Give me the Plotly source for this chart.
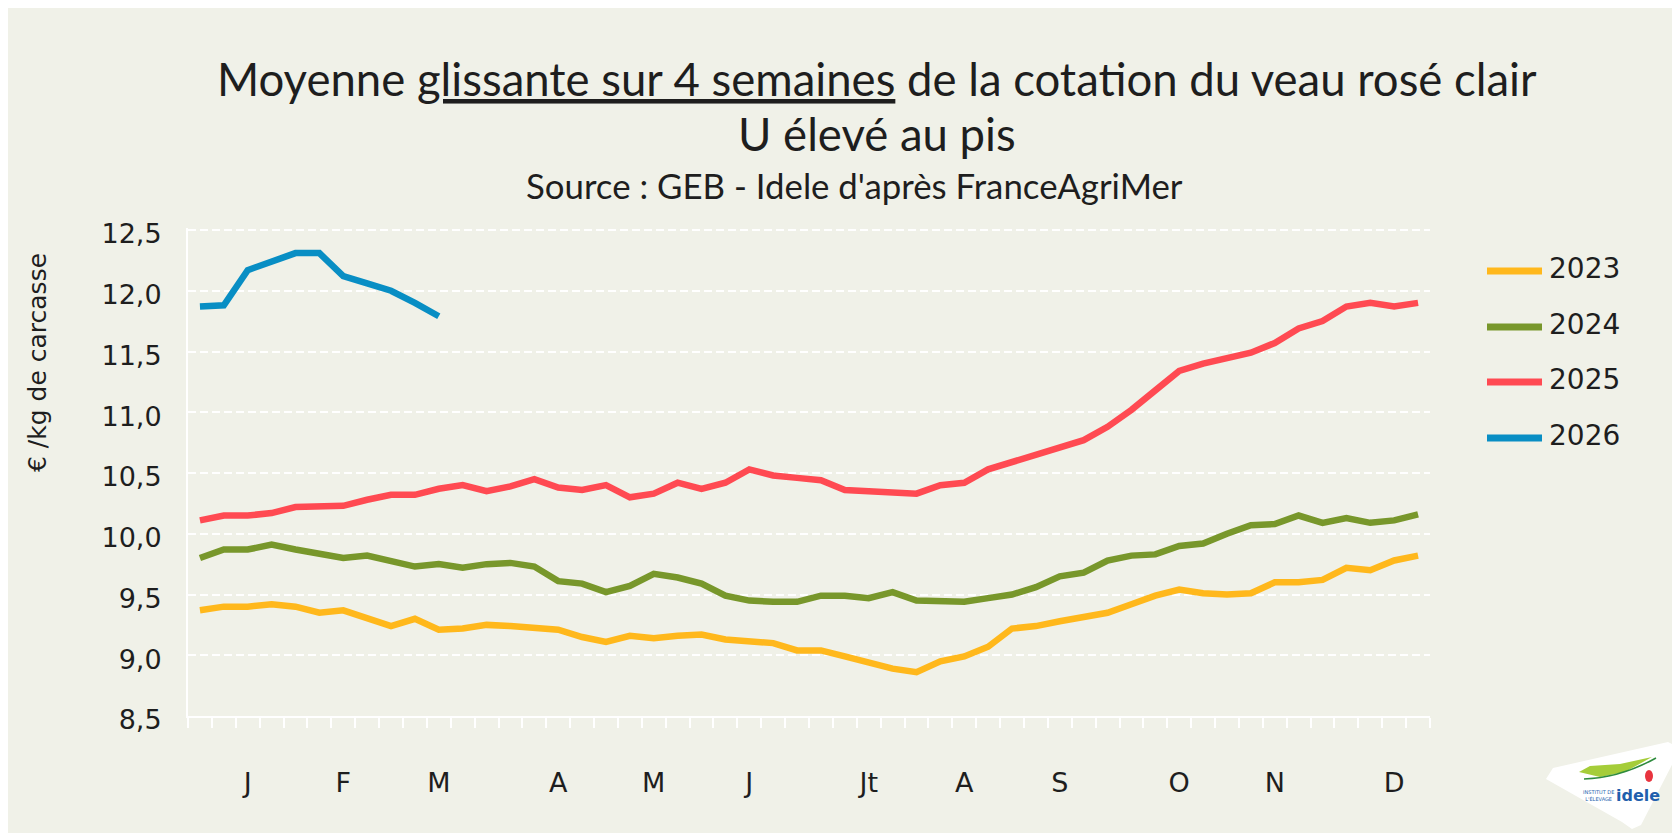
import plotly.graph_objects as go

# ---------------- data ----------------
weeks = list(range(1, 53))

y2023 = [9.37, 9.40, 9.40, 9.42, 9.40, 9.35, 9.37, 9.30, 9.24, 9.30,
         9.21, 9.22, 9.25, 9.24, 9.23, 9.21, 9.15, 9.11, 9.16, 9.14,
         9.16, 9.17, 9.13, 9.11, 9.10, 9.04, 9.04, 8.99, 8.94, 8.89,
         8.86, 8.95, 8.99, 9.07, 9.22, 9.24, 9.28, 9.32, 9.35, 9.42,
         9.49, 9.54, 9.51, 9.50, 9.51, 9.60, 9.60, 9.62, 9.72, 9.70,
         9.78, 9.82]

y2024 = [9.80, 9.87, 9.87, 9.91, 9.87, 9.83, 9.80, 9.82, 9.77, 9.73,
         9.75, 9.72, 9.75, 9.76, 9.73, 9.61, 9.59, 9.52, 9.57, 9.67,
         9.64, 9.59, 9.49, 9.45, 9.44, 9.44, 9.49, 9.49, 9.47, 9.52,
         9.45, 9.45, 9.44, 9.47, 9.50, 9.56, 9.65, 9.68, 9.78, 9.82,
         9.83, 9.90, 9.92, 10.00, 10.07, 10.08, 10.15, 10.09, 10.13, 10.09,
         10.11, 10.16]

y2025 = [10.11, 10.15, 10.15, 10.17, 10.22, 10.23, 10.23, 10.28, 10.32, 10.32,
         10.37, 10.40, 10.35, 10.39, 10.45, 10.38, 10.36, 10.40, 10.30, 10.33,
         10.42, 10.37, 10.42, 10.53, 10.48, 10.46, 10.44, 10.36, 10.35, 10.35,
         10.33, 10.40, 10.42, 10.53, 10.59, 10.66, 10.71, 10.77, 10.88, 11.02,
         11.18, 11.34, 11.40, 11.45, 11.49, 11.57, 11.69, 11.75, 11.87, 11.90,
         11.87, 11.90]

y2026 = [11.87, 11.88, 12.17, 12.24, 12.31, 12.31, 12.12, 12.06, 12.00, 11.90,
         11.79]

series_names = ["2023", "2024", "2025", "2026"]
series_values = [y2023, y2024, y2025, y2026]

month_labels = ["J", "F", "M", "A", "M", "J", "Jt", "A", "S", "O", "N", "D"]
month_weeks = [3, 7, 11, 16, 20, 24, 29, 33, 37, 42, 46, 51]

y_ticks = [8.5, 9.0, 9.5, 10.0, 10.5, 11.0, 11.5, 12.0, 12.5]

title_line1 = ("Moyenne <span style=\"text-decoration:underline;"
               "text-decoration-skip-ink:none\">glissante sur 4 semaines</span>"
               " de la cotation du veau rosé clair")
title_line2 = "U élevé au pis"
title_line3 = "Source : GEB - Idele d'après FranceAgriMer"
y_title = "€ /kg de carcasse"

# ---------------- style ----------------
colors = ["#FFB81C", "#78972B", "#FF4A52", "#088EC4"]
BG = "#F0F1E8"
TXT = "#1E1E1E"
AXFONT = "DejaVu Sans"
TITLEFONT = "Lato"

W, H = 1680, 833
OX, OY = 8, 8                      # page (body) offset of the figure
PX_PER_UNIT = 121.5                # vertical pixels per 1 €/kg
TOP_PAD = 2                        # keep the top gridline off the plot edge
Y_MIN = 8.5
Y_MAX = 12.5 + TOP_PAD / PX_PER_UNIT
# plot area in screen pixels
SX0, SX1, SY0, SY1 = 188, 1430, 230 - TOP_PAD, 716
L = SX0 - OX
R = W - (SX1 - OX)
T = SY0 - OY
B = H - (SY1 - OY)
PW = SX1 - SX0
PH = SY1 - SY0


def px(x):
    return (x - SX0) / PW


def py(y):
    return (SY1 - y) / PH


fig = go.Figure()

for name, vals, col in zip(series_names, series_values, colors):
    fig.add_trace(go.Scatter(
        x=weeks[:len(vals)], y=vals, name=name, mode="lines",
        line=dict(color=col, width=6.5), showlegend=False,
        hoverinfo="x+y+name",
    ))

shapes = []
annotations = []

# custom legend
leg_y = [271, 327, 382, 438]
for name, col, yy in zip(series_names, colors, leg_y):
    shapes.append(dict(type="line", xref="paper", yref="paper",
                       x0=px(1487), x1=px(1542), y0=py(yy), y1=py(yy),
                       line=dict(color=col, width=7)))
    annotations.append(dict(text=name, xref="paper", yref="paper",
                            x=px(1547), y=py(yy - 3), xanchor="left",
                            yanchor="middle", showarrow=False,
                            font=dict(family=AXFONT, size=28, color=TXT)))

# titles
annotations.append(dict(text=title_line1, xref="paper", yref="paper",
                        x=px(877), y=py(78), xanchor="center", yanchor="middle",
                        showarrow=False,
                        font=dict(family=TITLEFONT, size=45.5, color=TXT)))
annotations.append(dict(text=title_line2, xref="paper", yref="paper",
                        x=px(877), y=py(134), xanchor="center", yanchor="middle",
                        showarrow=False,
                        font=dict(family=TITLEFONT, size=45.5, color=TXT)))
annotations.append(dict(text=title_line3, xref="paper", yref="paper",
                        x=px(854), y=py(185), xanchor="center", yanchor="middle",
                        showarrow=False,
                        font=dict(family=TITLEFONT, size=34.8, color=TXT)))

# y axis title
annotations.append(dict(text=y_title, xref="paper", yref="paper",
                        x=px(37), y=py(363), xanchor="center", yanchor="middle",
                        textangle=-90, showarrow=False,
                        font=dict(family=AXFONT, size=25, color=TXT)))

# logo (approximation)
def path_px(pts):
    s = "M {:.5f},{:.5f} ".format(px(pts[0][0]), py(pts[0][1]))
    for p in pts[1:]:
        s += "L {:.5f},{:.5f} ".format(px(p[0]), py(p[1]))
    return s + "Z"

shapes.append(dict(type="path", xref="paper", yref="paper",
                   path=path_px([(1546, 779), (1553, 768), (1668, 742), (1678, 747),
                                 (1676, 757), (1641, 825), (1632, 829), (1622, 822)]),
                   fillcolor="white", line=dict(width=0)))
shapes.append(dict(type="path", xref="paper", yref="paper",
                   path=path_px([(1579, 772), (1590, 766), (1620, 764), (1652, 757),
                                 (1625, 772), (1600, 777)]),
                   fillcolor="#A5CD39", line=dict(width=0)))
shapes.append(dict(type="path", xref="paper", yref="paper",
                   path="M {:.5f},{:.5f} Q {:.5f},{:.5f} {:.5f},{:.5f}".format(
                       px(1584), py(779), px(1620), py(778), px(1656), py(758)),
                   line=dict(color="#2E8B3E", width=1.5)))
shapes.append(dict(type="circle", xref="paper", yref="paper",
                   x0=px(1645), x1=px(1653), y0=py(782), y1=py(770),
                   fillcolor="#E8343F", line=dict(width=0)))
annotations.append(dict(text="<b>idele</b>", xref="paper", yref="paper",
                        x=px(1638), y=py(795), xanchor="center", yanchor="middle",
                        showarrow=False,
                        font=dict(family="DejaVu Sans", size=16, color="#1F5FAD")))
annotations.append(dict(text="INSTITUT DE<br>L'ÉLEVAGE", xref="paper", yref="paper",
                        x=px(1598), y=py(795), xanchor="center", yanchor="middle",
                        showarrow=False,
                        font=dict(family="DejaVu Sans", size=5, color="#1F5FAD")))

fig.update_layout(
    width=W, height=H,
    margin=dict(l=L, r=R, t=T, b=B, pad=0, autoexpand=False),
    paper_bgcolor=BG,
    plot_bgcolor=BG,
    separators=", ",
    font=dict(family=AXFONT, size=27, color=TXT),
    shapes=shapes,
    annotations=annotations,
    showlegend=False,
    xaxis=dict(
        range=[0.5, 52.5], showgrid=False, zeroline=False,
        showline=True, linecolor="white", linewidth=2,
        tickmode="array", tickvals=month_weeks, ticktext=month_labels,
        ticks="", ticklabelstandoff=42,
        tickfont=dict(family=AXFONT, size=27, color=TXT),
        minor=dict(tickmode="array", tickvals=[w - 0.5 for w in weeks] + [52.5],
                   ticks="outside", ticklen=10, tickwidth=2, tickcolor="white",
                   showgrid=False),
        automargin=False, fixedrange=True,
    ),
    yaxis=dict(
        range=[Y_MIN, Y_MAX], showgrid=True, gridcolor="white", gridwidth=2,
        griddash="8px,4px", zeroline=False,
        showline=True, linecolor="white", linewidth=2,
        tickmode="array", tickvals=y_ticks, tickformat=".1f",
        ticks="", ticklabelstandoff=19, ticklabelshift=4,
        tickfont=dict(family=AXFONT, size=27, color=TXT),
        automargin=False, fixedrange=True,
    ),
)

fig.write_html("out.html", config={"displayModeBar": False})
